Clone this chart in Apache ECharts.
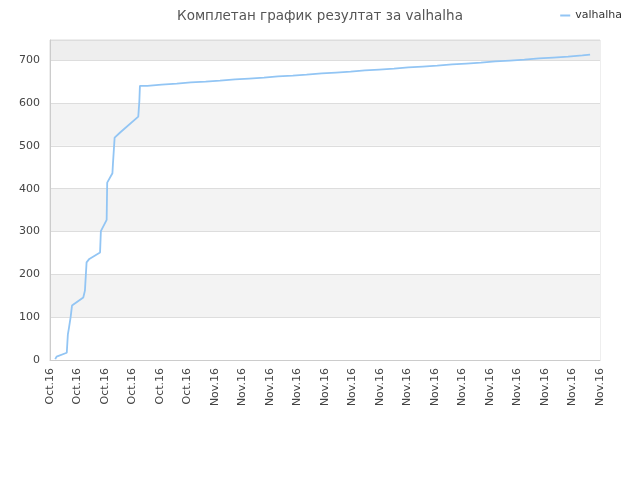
<!DOCTYPE html>
<html><head><meta charset="utf-8">
<script src="https://cdn.jsdelivr.net/npm/echarts@6/dist/echarts.min.js"></script>
<style>html,body{margin:0;padding:0;background:#fff}#c{width:640px;height:480px}</style>
</head><body><div id="c"></div>
<script>
var seriesName = 'valhalha';
var titleText = 'Комплетан график резултат за valhalha';
var tickLabels = ['Oct.16','Oct.16','Oct.16','Oct.16','Oct.16','Oct.16','Nov.16','Nov.16','Nov.16','Nov.16','Nov.16','Nov.16','Nov.16','Nov.16','Nov.16','Nov.16','Nov.16','Nov.16','Nov.16','Nov.16','Nov.16'];
// early climb (x in axis units, y = score)
var headX = [0.19,0.24,0.61,0.65,0.69,0.75,0.80,1.21,1.27,1.33,1.43,1.82,1.85,2.06,2.08,2.27,2.29,2.35,2.55,3.21,3.25,3.27];
var headY = [2,8,17,60,75,100,127,146,162,228,236,251,301,327,414,436,459,519,531,568,605,640];
// slow stair-step tail
var tailX = [3.54,4.06,4.61,5.12,5.66,6.18,6.73,7.24,7.78,8.29,8.83,9.33,9.88,10.40,10.93,11.45,11.97,12.51,13.03,13.55,14.08,14.62,15.14,15.67,16.19,16.73,17.25,17.78,18.30,18.84,19.36];
var tailY = [643,645,648,650,652,655,657,659,662,664,666,669,671,673,676,678,680,683,685,687,690,692,694,697,699,701,704,706,708,711,713];
var endX = 19.64;

var data = headX.map(function(x,i){return [x,headY[i]];});
var prev = headY[headY.length-1];
tailX.forEach(function(x,i){ data.push([x,prev]); data.push([x,tailY[i]]); prev = tailY[i]; });
data.push([endX,prev]);

var chart = echarts.init(document.getElementById('c'));
chart.setOption({
  animation:false,
  backgroundColor:'#fff',
  title:{text:titleText,left:'center',top:4,textStyle:{fontSize:13.5,fontWeight:'normal',color:'#555',fontFamily:'DejaVu Sans'}},
  legend:{right:13,top:5,itemWidth:10,itemHeight:2,icon:'rect',itemGap:5,textStyle:{fontSize:11,color:'#333',fontFamily:'DejaVu Sans'},data:[seriesName]},
  grid:{left:50,right:40,top:40,bottom:120,show:true,borderColor:'#ddd',borderWidth:1},
  xAxis:{type:'value',min:0,max:tickLabels.length-1,interval:1,
    axisLine:{lineStyle:{color:'#ccc'}},axisTick:{show:false},splitLine:{show:false},
    axisLabel:{rotate:90,fontSize:11,color:'#444',fontFamily:'DejaVu Sans',margin:8,
      formatter:function(v){return tickLabels[Math.round(v)]||'';}}},
  yAxis:{type:'value',min:0,max:747,interval:100,
    axisLine:{show:true,lineStyle:{color:'#ccc'}},axisTick:{show:false},
    axisLabel:{fontSize:11,color:'#444',fontFamily:'DejaVu Sans',showMaxLabel:false,margin:10},
    splitLine:{lineStyle:{color:'#ddd'}},
    splitArea:{show:true,areaStyle:{color:['#ffffff','#f3f3f3','#ffffff','#f3f3f3','#ffffff','#f3f3f3','#ffffff','#eeeeee']}}},
  series:[{name:seriesName,type:'line',data:data,showSymbol:false,
    lineStyle:{color:'#92c5f4',width:1.8},itemStyle:{color:'#92c5f4'}}]
});
</script></body></html>
